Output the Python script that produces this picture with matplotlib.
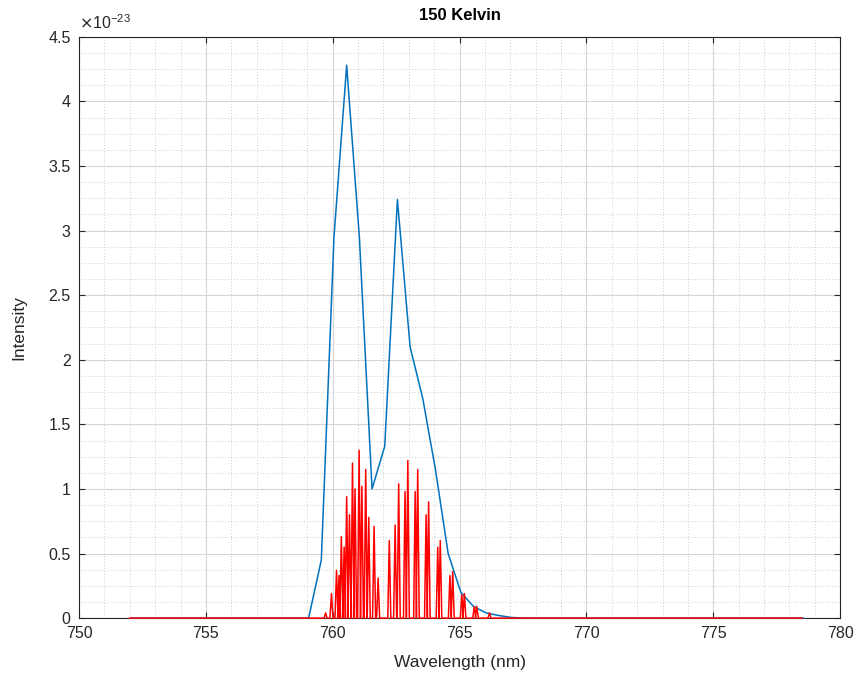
"""150 Kelvin spectrum"""
import matplotlib
matplotlib.use('Agg')
import matplotlib.pyplot as plt
from matplotlib.ticker import MultipleLocator, FormatStrFormatter

# Intensities are in units of 1e-23
# broadened envelope (blue), sampled every 0.5 nm
blue_wl = [752.05, 752.55, 753.05, 753.55, 754.05, 754.55, 755.05, 755.55,
           756.05, 756.55, 757.05, 757.55, 758.05, 758.55, 759.05, 759.55,
           760.05, 760.55, 761.05, 761.55, 762.05, 762.55, 763.05, 763.55,
           764.05, 764.55, 765.05, 765.55, 766.05, 766.55, 767.05, 767.55,
           768.05, 768.55, 769.05, 769.55, 770.05, 770.55, 771.05, 771.55,
           772.05, 772.55, 773.05, 773.55, 774.05, 774.55, 775.05, 775.55,
           776.05, 776.55, 777.05, 777.55, 778.05, 778.55]
blue_int = [0, 0, 0, 0, 0, 0, 0, 0,
            0, 0, 0, 0, 0, 0, 0, 0.45,
            2.95, 4.28, 2.95, 1.00, 1.33, 3.24, 2.10, 1.70,
            1.15, 0.50, 0.20, 0.09, 0.04, 0.02, 0.005, 0,
            0, 0, 0, 0, 0, 0, 0, 0,
            0, 0, 0, 0, 0, 0, 0, 0,
            0, 0, 0, 0, 0, 0]

# individual lines (red)
line_wl = [759.72, 759.95, 760.15, 760.25, 760.34, 760.45, 760.55, 760.66,
           760.78, 760.88, 761.04, 761.15, 761.30, 761.42, 761.63, 761.79,
           762.23, 762.46, 762.60, 762.85, 762.96, 763.25, 763.35, 763.68,
           763.78, 764.14, 764.24, 764.62, 764.73, 765.09, 765.19, 765.58,
           765.68, 766.18]
line_int = [0.04, 0.19, 0.37, 0.33, 0.63, 0.55, 0.94, 0.80,
            1.20, 1.00, 1.30, 1.02, 1.15, 0.78, 0.71, 0.31,
            0.60, 0.72, 1.04, 0.98, 1.22, 0.98, 1.15, 0.80,
            0.90, 0.55, 0.60, 0.33, 0.36, 0.18, 0.19, 0.09,
            0.09, 0.04]
red_range = (752.0, 778.5)
half_width = 0.06

plt.rcParams['font.family'] = ['Liberation Sans', 'DejaVu Sans']

fig = plt.figure(figsize=(8.59, 6.83), dpi=100)
ax = fig.add_axes([0.092, 0.095, 0.886, 0.851])

# build the stick spectrum as a polyline
red_x = [red_range[0]]
red_y = [0]
for c, h in zip(line_wl, line_int):
    red_x += [c - half_width, c, c + half_width]
    red_y += [0, h, 0]
red_x.append(red_range[1])
red_y.append(0)

ax.plot(blue_wl, blue_int, color='#0072BD', lw=1.1, clip_on=False, zorder=3)
ax.plot(red_x, red_y, color='#FF0000', lw=1.1, clip_on=False, zorder=4)

ax.set_xlim(750, 780)
ax.set_ylim(0, 4.5)
ax.xaxis.set_major_locator(MultipleLocator(5))
ax.xaxis.set_minor_locator(MultipleLocator(1))
ax.yaxis.set_major_locator(MultipleLocator(0.5))
ax.yaxis.set_minor_locator(MultipleLocator(0.125))
ax.yaxis.set_major_formatter(FormatStrFormatter('%g'))

ax.grid(which='major', color='#d6d6d6', lw=0.8, ls='-')
ax.grid(which='minor', color='#bdbdbd', lw=0.6, ls=(0, (1, 2.5)))
ax.set_axisbelow(True)

ax.tick_params(which='major', direction='in', length=4, top=True, right=True,
               labelsize=11.5, colors='#262626', pad=6)
ax.tick_params(which='minor', length=0)
for s in ax.spines.values():
    s.set_color('#262626')
    s.set_linewidth(0.8)
    s.set_zorder(2.5)

ax.set_xlabel('Wavelength (nm)', fontsize=12.5, color='#262626', labelpad=10)
ax.set_ylabel('Intensity', fontsize=12.5, color='#262626', labelpad=16)
ax.set_title('150 Kelvin', fontsize=12, fontweight='bold', pad=12)
ax.text(0.0, 1.008, r'$\times$10$^{\mathregular{-23}}$', transform=ax.transAxes,
        fontsize=11.5, color='#262626', ha='left', va='bottom')

fig.savefig('out.png', dpi=100)
